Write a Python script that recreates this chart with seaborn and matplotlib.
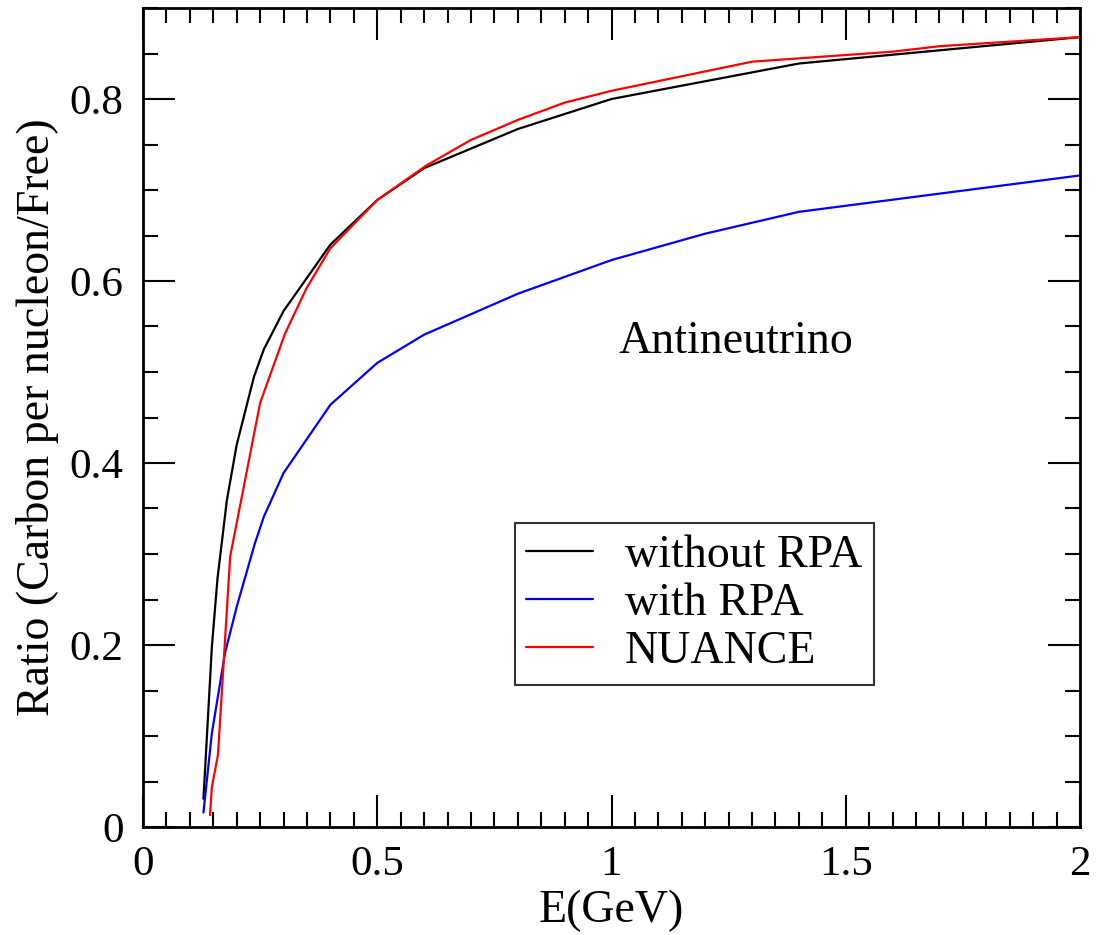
import numpy as np
import pandas as pd
import matplotlib
matplotlib.use("Agg")
import matplotlib.pyplot as plt
from matplotlib.ticker import MultipleLocator
import seaborn as sns

# Data
E_without = [0.129, 0.134, 0.147, 0.159, 0.179, 0.200, 0.237, 0.258, 0.300, 0.400, 0.500, 0.600, 0.800, 1.000, 1.400, 2.000]
R_without = [0.031, 0.077, 0.198, 0.273, 0.359, 0.420, 0.495, 0.525, 0.567, 0.640, 0.689, 0.724, 0.767, 0.800, 0.839, 0.868]

E_with = [0.129, 0.147, 0.161, 0.175, 0.200, 0.239, 0.258, 0.300, 0.400, 0.500, 0.600, 0.800, 1.000, 1.200, 1.400, 2.000]
R_with = [0.016, 0.103, 0.147, 0.191, 0.242, 0.312, 0.341, 0.389, 0.464, 0.510, 0.541, 0.586, 0.623, 0.652, 0.676, 0.716]

E_nuance = [0.143, 0.147, 0.160, 0.186, 0.200, 0.250, 0.303, 0.349, 0.400, 0.500, 0.605, 0.700, 0.800, 0.900, 1.000, 1.300, 1.600, 1.700, 2.000]
R_nuance = [0.013, 0.044, 0.079, 0.297, 0.334, 0.466, 0.542, 0.592, 0.636, 0.689, 0.727, 0.755, 0.777, 0.796, 0.809, 0.841, 0.852, 0.858, 0.868]

labels = ["without RPA", "with RPA", "NUANCE"]
colors = ["#000000", "#0000ff", "#ff0000"]
x_ticks = [0, 0.5, 1, 1.5, 2]
x_ticklabels = ["0", "0.5", "1", "1.5", "2"]
y_ticks = [0, 0.2, 0.4, 0.6, 0.8]
y_ticklabels = ["0", "0.2", "0.4", "0.6", "0.8"]

df = pd.concat([
    pd.DataFrame({"E": E_without, "R": R_without, "series": labels[0]}),
    pd.DataFrame({"E": E_with, "R": R_with, "series": labels[1]}),
    pd.DataFrame({"E": E_nuance, "R": R_nuance, "series": labels[2]}),
], ignore_index=True)

sns.set_theme(style="ticks")
plt.rcParams["font.family"] = ["Liberation Serif", "DejaVu Serif"]
plt.rcParams["text.color"] = "black"
plt.rcParams["axes.labelcolor"] = "black"
plt.rcParams["xtick.color"] = "black"
plt.rcParams["ytick.color"] = "black"

FS_TICK = 31
FS = 33
fig = plt.figure(figsize=(10.99, 9.35), dpi=100)
ax = fig.add_axes([143/1099, 1 - 827/935, (1080-143)/1099, (827-8)/935])

sns.lineplot(data=df, x="E", y="R", hue="series", hue_order=labels,
             palette=dict(zip(labels, colors)), estimator=None, sort=False,
             linewidth=1.6, ax=ax, legend=True)

ax.set_xlim(0, 2)
ax.set_ylim(0, 0.9)
ax.set_xticks(x_ticks)
ax.set_xticklabels(x_ticklabels)
ax.set_yticks(y_ticks)
ax.set_yticklabels(y_ticklabels)
ax.xaxis.set_minor_locator(MultipleLocator(0.05))
ax.yaxis.set_minor_locator(MultipleLocator(0.05))
ax.tick_params(which="both", direction="in", top=True, right=True, labelsize=FS_TICK,
               colors="black", labelcolor="black")
ax.tick_params(which="major", length=23, width=1.5)
ax.tick_params(which="minor", length=11, width=1.5)
ax.tick_params(axis="x", which="major", pad=13)
ax.tick_params(axis="y", which="major", pad=14)
for s in ax.spines.values():
    s.set_linewidth(2.0)
    s.set_color("black")

ax.set_xlabel("E(GeV)", fontsize=FS, labelpad=4, color="black")
ax.set_ylabel("Ratio (Carbon per nucleon/Free)", fontsize=33, labelpad=8, color="black")

ax.text(1.014, 0.521, "Antineutrino", fontsize=FS, ha="left", va="baseline", color="black")

leg = ax.legend(loc="upper left", bbox_to_anchor=(0.397, 0.371), borderaxespad=0,
                fontsize=FS, frameon=True, fancybox=False, handlelength=1.45,
                handletextpad=0.7, labelspacing=0.12, borderpad=0.25)
leg.get_frame().set_edgecolor("black")
leg.get_frame().set_linewidth(1.5)
for t in leg.get_texts():
    t.set_color("black")
for line in leg.get_lines():
    line.set_linewidth(1.6)

fig.savefig("out.png", dpi=100)
